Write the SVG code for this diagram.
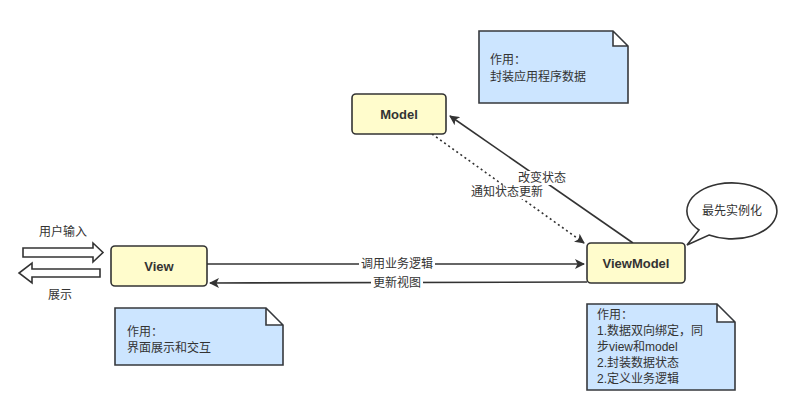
<svg xmlns="http://www.w3.org/2000/svg" width="790" height="407" viewBox="0 0 790 407">
<style>
text{font-family:"Liberation Sans","Noto Sans CJK SC",sans-serif;font-size:12px;fill:#333;}
.node rect{fill:#fffccc;stroke:#333;stroke-width:1.6;}
.node text{font-weight:bold;font-size:13px;text-anchor:middle;dominant-baseline:central;}
.note path{fill:#cce5ff;stroke:#36393d;stroke-width:1.6;}
.lbl{text-anchor:middle;dominant-baseline:central;}
.edge{stroke:#333;stroke-width:1.6;fill:none;}
.bg{fill:#fff;}
</style>
<defs>
<marker id="ah" markerWidth="10" markerHeight="10" refX="9" refY="5" orient="auto" markerUnits="userSpaceOnUse" viewBox="0 0 10 10">
<path d="M0,0 L10,5 L0,10 L2.5,5 Z" fill="#333"/>
</marker>
</defs>
<g id="connectors">
<line class="edge" x1="633" y1="243" x2="450" y2="116" marker-end="url(#ah)"/>
<line class="edge" x1="432" y1="134" x2="584" y2="243" stroke-dasharray="2,3" marker-end="url(#ah)"/>
<line class="edge" x1="207" y1="264" x2="584" y2="264" marker-end="url(#ah)"/>
<line class="edge" x1="587" y1="282" x2="210" y2="283" marker-end="url(#ah)"/>
<rect class="bg" x="526" y="171" width="44" height="14"/>
<text class="lbl" x="542" y="178">改变状态</text>
<rect class="bg" x="470" y="185" width="74" height="14"/>
<text class="lbl" x="507" y="192">通知状态更新</text>
<rect class="bg" x="359" y="257" width="76" height="14"/>
<text class="lbl" x="397" y="264">调用业务逻辑</text>
<rect class="bg" x="371" y="276" width="52" height="14"/>
<text class="lbl" x="397" y="283">更新视图</text>
</g>
<g id="input-arrow">
<path d="M23,248 L93,248 L93,243 L103,252.5 L93,262 L93,257 L23,257 Z" fill="#fff" stroke="#333" stroke-width="1.6"/>
<text class="lbl" x="63" y="232">用户输入</text>
</g>
<g id="output-arrow">
<path d="M100,269 L32,269 L32,263 L19,273 L32,283 L32,277 L100,277 Z" fill="#fff" stroke="#333" stroke-width="1.6"/>
<text class="lbl" x="60" y="295">展示</text>
</g>
<g id="model" class="node">
<rect x="352" y="94" width="94" height="40" rx="4"/>
<text x="399" y="114">Model</text>
</g>
<g id="view" class="node">
<rect x="111" y="246" width="96" height="40" rx="4"/>
<text x="159" y="266">View</text>
</g>
<g id="viewmodel" class="node">
<rect x="587" y="243" width="98" height="40" rx="4"/>
<text x="636" y="263">ViewModel</text>
</g>
<g id="note-model" class="note">
<path d="M479,31 L613,31 L628,46 L628,103 L479,103 Z M613,31 L613,46 L628,46"/>
<text x="490" y="64">作用：</text>
<text x="490" y="81">封装应用程序数据</text>
</g>
<g id="note-view" class="note">
<path d="M115,308 L266,308 L283,325 L283,365 L115,365 Z M266,308 L266,325 L283,325"/>
<text x="127" y="336">作用：</text>
<text x="127" y="352">界面展示和交互</text>
</g>
<g id="note-viewmodel" class="note">
<path d="M587,304 L717,304 L735,322 L735,390 L587,390 Z M717,304 L717,322 L735,322"/>
<text x="597" y="319">作用：</text>
<text x="597" y="335">1.数据双向绑定，同</text>
<text x="597" y="351">步view和model</text>
<text x="597" y="367">2.封装数据状态</text>
<text x="597" y="383">2.定义业务逻辑</text>
</g>
<g id="bubble">
<path d="M687,245 L699,230 A45,28 0 1 1 709,235 Z" fill="#fff" stroke="#333" stroke-width="1.6"/>
<text class="lbl" x="732" y="211">最先实例化</text>
</g>
</svg>
